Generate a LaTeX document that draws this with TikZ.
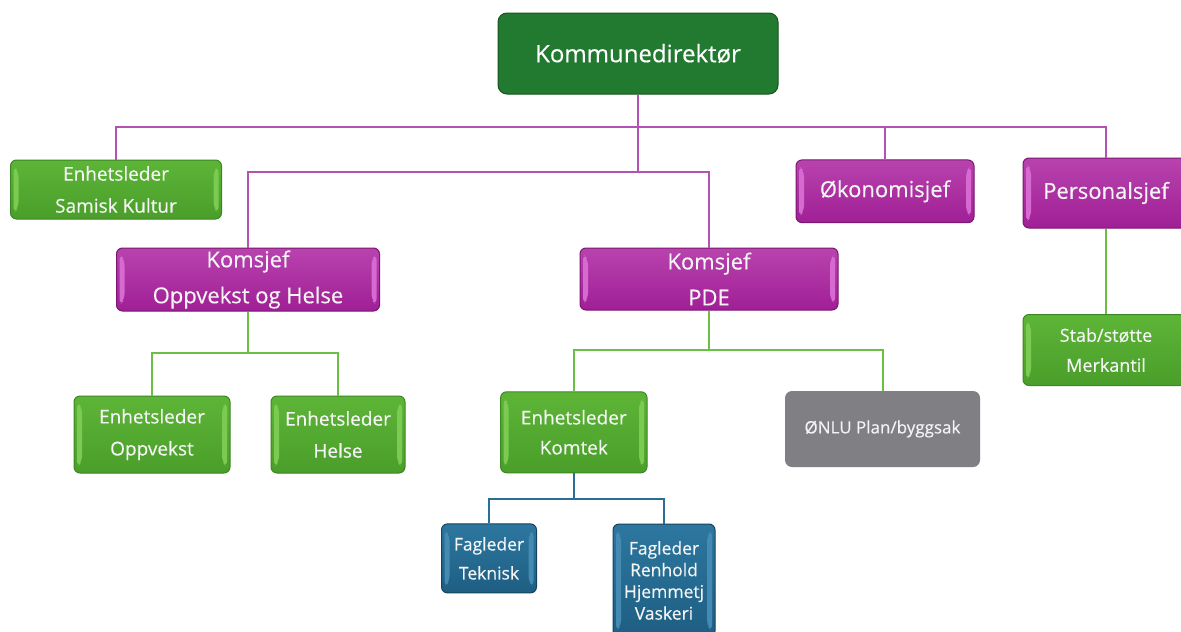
\documentclass[tikz,border=0pt]{standalone}
\usepackage{fontspec}
\setmainfont{Open Sans}[FakeBold=0.35]
\definecolor{kdgreen}{HTML}{217A30}
\definecolor{kdborder}{HTML}{17541F}
\definecolor{gtop}{HTML}{5DB537}
\definecolor{gbot}{HTML}{4A9E2A}
\definecolor{gborder}{HTML}{3C8624}
\definecolor{glight}{HTML}{8FD862}
\definecolor{mtop}{HTML}{B843AE}
\definecolor{mbot}{HTML}{A01F96}
\definecolor{mborder}{HTML}{7B1672}
\definecolor{mlight}{HTML}{E77FE4}
\definecolor{btop}{HTML}{2D77A0}
\definecolor{bbot}{HTML}{1E5E82}
\definecolor{bborder}{HTML}{16435E}
\definecolor{blight}{HTML}{5597BF}
\definecolor{nlgray}{HTML}{807F83}
\definecolor{magline}{HTML}{B452B4}
\definecolor{grline}{HTML}{6BBF45}
\definecolor{blline}{HTML}{2B6E95}
\definecolor{txt}{HTML}{F4F4F4}
\tikzset{
  bevel/.style={path picture={
    \path[fill=#1] ([shift={(3,6)}]path picture bounding box.north west) -- ([shift={(8,11)}]path picture bounding box.north west) -- ([shift={(8,-11)}]path picture bounding box.south west) -- ([shift={(3,-6)}]path picture bounding box.south west) -- cycle;
    \path[fill=#1] ([shift={(-3,6)}]path picture bounding box.north east) -- ([shift={(-8,11)}]path picture bounding box.north east) -- ([shift={(-8,-11)}]path picture bounding box.south east) -- ([shift={(-3,-6)}]path picture bounding box.south east) -- cycle;
  }},
  boxbase/.style={rectangle, rounded corners=6pt, inner sep=0pt, align=center, text=txt, line width=1pt},
  greenbox/.style={boxbase, draw=gborder, top color=gtop, bottom color=gbot, bevel=glight!60!gtop},
  magbox/.style={boxbase, draw=mborder, top color=mtop, bottom color=mbot, bevel=mlight!65!mtop},
  bluebox/.style={boxbase, draw=bborder, top color=btop, bottom color=bbot, bevel=blight!60!btop},
  graybox/.style={boxbase, fill=nlgray, rounded corners=7pt},
  topbox/.style={boxbase, fill=kdgreen, draw=kdborder, rounded corners=9pt, text=white},
  mline/.style={draw=magline, line width=2pt},
  gline/.style={draw=grline, line width=2pt},
  bline/.style={draw=blline, line width=2pt},
}
\begin{document}
\begin{tikzpicture}[x=1pt, y=-1pt]
\useasboundingbox[fill=white] (0,0) rectangle (1181,632);
% coordinates for buses
\coordinate (b1) at (0,127);
\coordinate (b2) at (0,171.5);
\coordinate (b3) at (0,353);
\coordinate (b4) at (0,350);
\coordinate (b5) at (0,499);
% nodes
\node[topbox, minimum width=280pt, minimum height=81pt, font=\fontsize{24}{28}\selectfont] (kd) at (638,53.5) {Kommunedirektør};
\node[greenbox, minimum width=211pt, minimum height=59pt, font=\fontsize{19}{32}\selectfont] (samisk) at (116,189.5) {Enhetsleder\\Samisk Kultur};
\node[magbox, minimum width=178pt, minimum height=62.7pt, font=\fontsize{22}{36}\selectfont] (okon) at (885,191.3) {Økonomisjef};
\node[magbox, minimum width=166pt, minimum height=70pt, font=\fontsize{22}{36}\selectfont] (personal) at (1106,193) {Personalsjef};
\node[magbox, minimum width=263pt, minimum height=63pt, font=\fontsize{22}{36}\selectfont] (koh) at (248,279.5) {Komsjef\\Oppvekst og Helse};
\node[magbox, minimum width=258pt, minimum height=62pt, font=\fontsize{22}{36}\selectfont] (kpde) at (709,279) {Komsjef\\PDE};
\node[greenbox, minimum width=166pt, minimum height=71pt, font=\fontsize{18}{30}\selectfont] (stab) at (1106,350) {Stab/støtte\\Merkantil};
\node[greenbox, minimum width=156pt, minimum height=77pt, font=\fontsize{19}{32}\selectfont] (opp) at (152,434.5) {Enhetsleder\\Oppvekst};
\node[greenbox, minimum width=134pt, minimum height=77pt, font=\fontsize{19}{32}\selectfont] (helse) at (338,434.5) {Enhetsleder\\Helse};
\node[greenbox, minimum width=146.4pt, minimum height=81pt, font=\fontsize{19}{30}\selectfont] (komtek) at (573.8,432.3) {Enhetsleder\\Komtek};
\node[graybox, minimum width=195pt, minimum height=76pt, font=\fontsize{17}{22}\selectfont] (onlu) at (882.5,429) {ØNLU Plan/byggsak};
\node[bluebox, minimum width=95pt, minimum height=69pt, font=\fontsize{17.5}{29}\selectfont] (tek) at (489,558.4) {Fagleder\\Teknisk};
\node[bluebox, minimum width=102pt, minimum height=113pt, font=\fontsize{17.5}{21.7}\selectfont] (renh) at (664,580.5) {Fagleder\\Renhold\\Hjemmetj\\Vaskeri};
% connectors
\draw[mline] (samisk.north) |- (personal.north |- b1) -- (personal.north);
\draw[mline] (okon.north) -- (okon.north |- b1);
\draw[mline] (kd.south) -- (kd.south |- b2);
\draw[mline] (koh.north) |- (kpde.north |- b2) -- (kpde.north);
\draw[gline] (koh.south) -- (koh.south |- b3);
\draw[gline] (opp.north) |- (helse.north |- b3) -- (helse.north);
\draw[gline] (kpde.south) -- (kpde.south |- b4);
\draw[gline] (komtek.north) |- (onlu.north |- b4) -- (onlu.north);
\draw[gline] (personal.south) -- (stab.north);
\draw[bline] (komtek.south) -- (komtek.south |- b5);
\draw[bline] (tek.north) |- (renh.north |- b5) -- (renh.north);
\end{tikzpicture}
\end{document}
